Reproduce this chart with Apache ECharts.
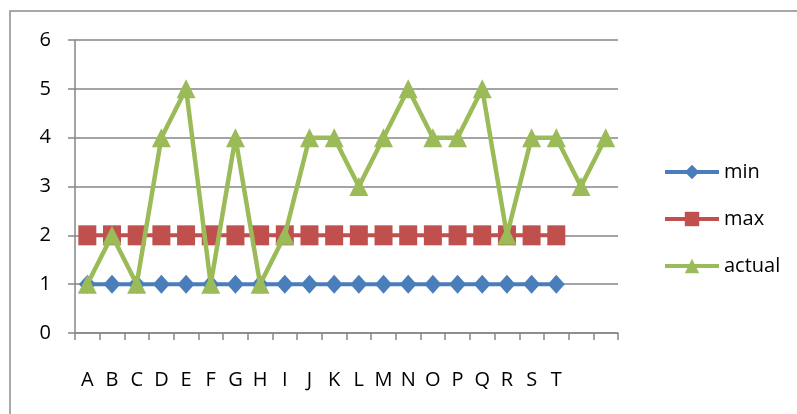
<!DOCTYPE html>
<html><head><meta charset="utf-8">
<script src="https://cdn.jsdelivr.net/npm/echarts@6/dist/echarts.min.js"></script>
<style>html,body{margin:0;padding:0;background:#fff;}#c{width:797px;height:414px;}</style>
</head><body><div id="c"></div>
<script>
const categories = ['A','B','C','D','E','F','G','H','I','J','K','L','M','N','O','P','Q','R','S','T','',''];
const minValues = [1,1,1,1,1,1,1,1,1,1,1,1,1,1,1,1,1,1,1,1];
const maxValues = [2,2,2,2,2,2,2,2,2,2,2,2,2,2,2,2,2,2,2,2];
const actualValues = [1,2,1,4,5,1,4,1,2,4,4,3,4,5,4,4,5,2,4,4,3,4];
const yTicks = [0,1,2,3,4,5,6];

const FONT = 'Open Sans';
const chart = echarts.init(document.getElementById('c'), null, {renderer:'canvas'});
chart.setOption({
  animation:false,
  backgroundColor:'#fff',
  graphic:[{type:'rect', shape:{x:10,y:11,width:820,height:440}, style:{fill:'none', stroke:'#8c8c8c', lineWidth:1.5}, z:-1}],
  grid:{left:75, right:179, top:40, bottom:81},
  legend:{
    orient:'vertical', left:658, top:157, itemWidth:54, itemHeight:18, itemGap:27,
    textStyle:{fontFamily:FONT, fontSize:20, color:'#000'},
    lineStyle:{width:4},
    data:['min','max','actual']
  },
  xAxis:{
    type:'category', data:categories, boundaryGap:true,
    axisLine:{lineStyle:{color:'#868686', width:1.5}},
    axisTick:{show:true, length:7, interval:0, lineStyle:{color:'#868686', width:1.5}},
    axisLabel:{interval:0, margin:37, fontFamily:FONT, fontSize:20, color:'#000'},
    splitLine:{show:false}
  },
  yAxis:{
    type:'value', min:yTicks[0], max:yTicks[yTicks.length-1], interval:1,
    axisLine:{show:true, lineStyle:{color:'#868686', width:1.5}},
    axisTick:{show:true, length:7, lineStyle:{color:'#868686', width:1.5}},
    axisLabel:{margin:24, fontFamily:FONT, fontSize:20, color:'#000'},
    splitLine:{lineStyle:{color:'#868686', width:1.5}}
  },
  series:[
    {name:'min', type:'line', data:minValues, symbol:'diamond', symbolSize:[17,19], showAllSymbol:true,
     itemStyle:{color:'#4A7EBB'}, lineStyle:{color:'#4A7EBB', width:4}, z:2},
    {name:'max', type:'line', data:maxValues, symbol:'rect', symbolSize:[18,20], showAllSymbol:true,
     itemStyle:{color:'#C0504D'}, lineStyle:{color:'#C0504D', width:4}, z:3},
    {name:'actual', type:'line', data:actualValues, symbol:'triangle', symbolSize:[19,19], showAllSymbol:true,
     itemStyle:{color:'#9BBB59'}, lineStyle:{color:'#9BBB59', width:4.5}, z:4}
  ]
});
</script></body></html>
